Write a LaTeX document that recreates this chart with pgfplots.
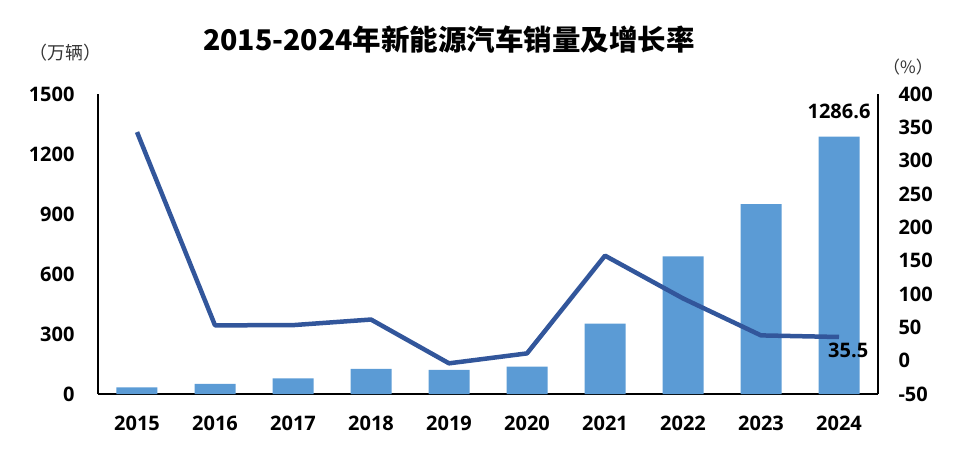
\documentclass[border=0pt]{standalone}
\usepackage{fontspec}
\setmainfont{Open Sans}
\newfontfamily\cjk{Noto Sans CJK SC}
\usepackage{pgfplots}
\pgfplotsset{compat=1.18}
\definecolor{barblue}{RGB}{91,155,213}
\definecolor{lineblue}{RGB}{50,86,155}
\newcommand{\tickfont}{\bfseries\fontsize{20bp}{21bp}\selectfont}

\begin{document}
\begin{tikzpicture}
\useasboundingbox (-98bp,-60bp) rectangle (878bp,394bp);
% sales bars, left axis
\begin{axis}[
    at={(0,0)}, anchor=south west,
    scale only axis, width=780bp, height=300bp,
    xmin=-0.5, xmax=9.5,
    ymin=0, ymax=1500,
    ytick={0,300,...,1500},
    xtick=data,
    xticklabels={2015,2016,2017,2018,2019,2020,2021,2022,2023,2024},
    axis x line*=bottom, axis y line*=left,
    axis line style={line width=1.6bp, -},
    major tick length=0pt,
    scaled y ticks=false,
    /pgf/number format/1000 sep={},
    /pgf/number format/assume math mode=true,
    tick label style={font=\tickfont},
    yticklabel style={xshift=-20bp},
    xticklabel style={yshift=-18bp},
    clip=false,
]
\addplot[ybar, bar width=41bp, fill=barblue, draw=none] coordinates {
    (0,33.1) (1,50.7) (2,77.7) (3,125.6) (4,120.6)
    (5,136.7) (6,352.1) (7,688.7) (8,949.5) (9,1286.6)
};
\node[anchor=south, inner sep=0pt, yshift=18bp, font=\tickfont] at (axis cs:9,1286.6) {1286.6};
\end{axis}
% growth rate line, right axis
\begin{axis}[
    at={(0,0)}, anchor=south west,
    scale only axis, width=780bp, height=300bp,
    xmin=-0.5, xmax=9.5,
    ymin=-50, ymax=400,
    ytick={-50,0,...,400},
    axis y line*=right, axis x line=none,
    axis line style={line width=1.6bp, -},
    major tick length=0pt,
    /pgf/number format/assume math mode=true,
    tick label style={font=\tickfont},
    yticklabel style={xshift=17bp},
    clip=false,
]
\addplot[color=lineblue, line width=4.5bp, line join=round] coordinates {
    (0,342.9) (1,53.0) (2,53.3) (3,61.7) (4,-4.0)
    (5,10.9) (6,157.5) (7,93.4) (8,37.9) (9,35.5)
};
\node[anchor=north west, inner sep=0pt, xshift=-11bp, yshift=-6bp, font=\tickfont] at (axis cs:9,35.5) {35.5};
\end{axis}
\node[font=\cjk\bfseries\fontsize{28.5bp}{30bp}\selectfont] at (351bp,354bp) {2015-2024年新能源汽车销量及增长率};
\node[font=\cjk\fontsize{18bp}{19bp}\selectfont, text=black!80] at (-32bp,341bp) {（万辆）};
\node[font=\cjk\fontsize{17bp}{18bp}\selectfont, text=black!80] at (810bp,327bp) {（\%）};
\end{tikzpicture}
\end{document}
